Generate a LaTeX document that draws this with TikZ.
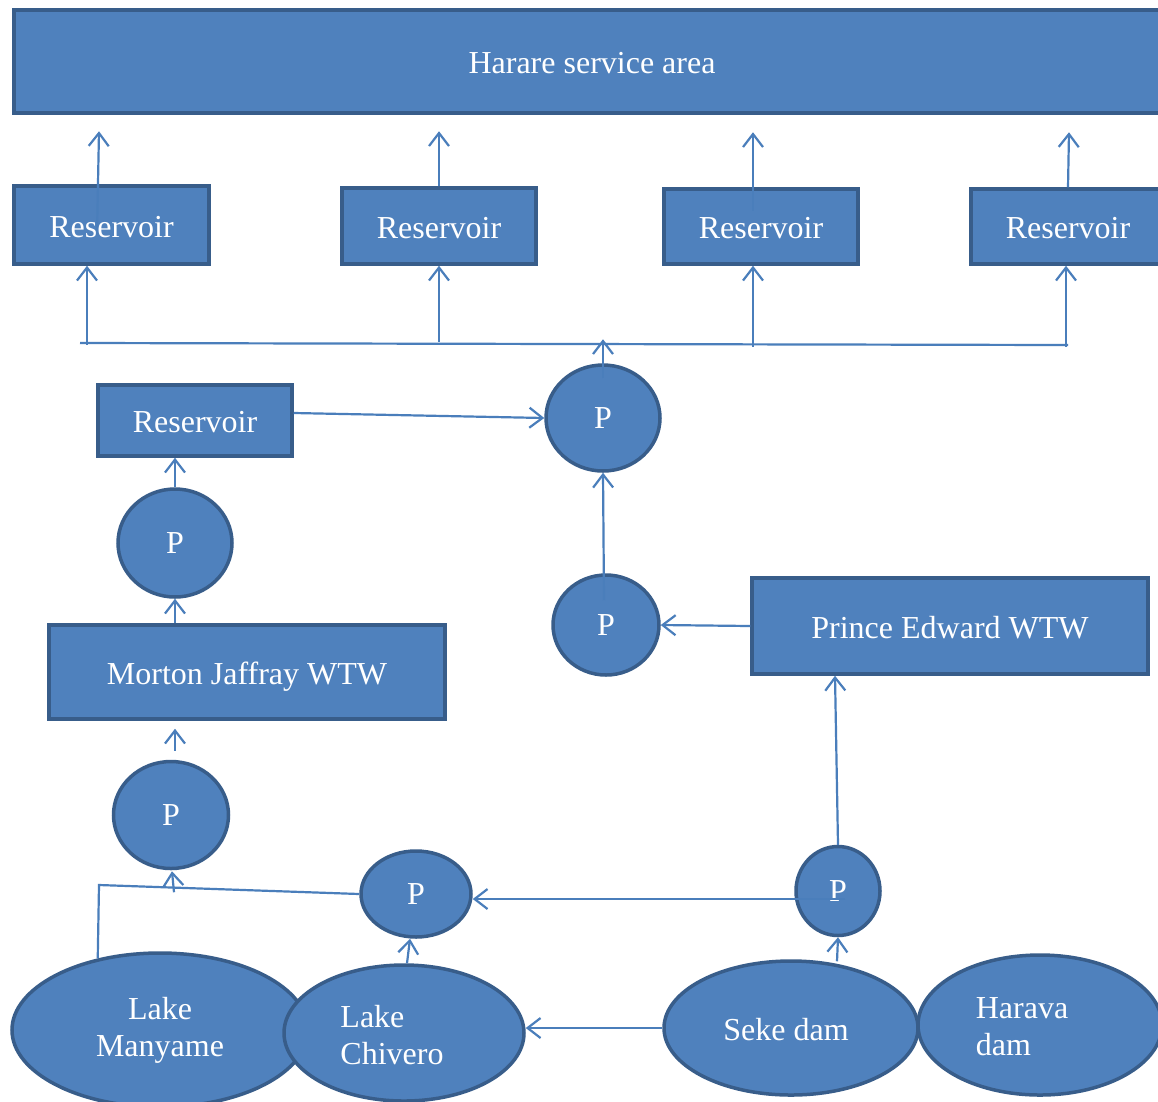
\documentclass[tikz,border=0pt]{standalone}
\usepackage{fontspec}
\setmainfont{Liberation Serif}
\usetikzlibrary{arrows.meta,shapes.geometric,calc}
\definecolor{fillc}{HTML}{4F81BD}
\definecolor{bordc}{HTML}{385D8A}
\definecolor{linec}{HTML}{4A7EBB}
\tikzset{
  box/.style={rectangle, fill=fillc, draw=bordc, line width=3.5pt, text=white, inner sep=0pt,
    font=\fontsize{32}{37}\selectfont, text height=26pt, text depth=2pt},
  pump/.style={ellipse, fill=fillc, draw=bordc, line width=3.5pt, text=white, inner sep=0pt,
    font=\fontsize{32}{37}\selectfont},
  lake/.style={ellipse, fill=fillc, draw=bordc, line width=3.5pt, text=white, inner sep=0pt,
    font=\fontsize{32}{37}\selectfont, align=center},
  lbl/.style={text=white, font=\fontsize{32}{37}\selectfont, align=left, inner sep=0pt},
  pipe/.style={draw=linec, line width=2.2pt},
  conn/.style={pipe, -{Straight Barb[length=13pt,width=20pt,line width=2.2pt]}}
}
\begin{document}
\begin{tikzpicture}[x=1pt,y=-1pt]
\useasboundingbox (0,0) rectangle (1158,1101);
\fill[white] (0,0) rectangle (1158,1101);

% boxes
\node[box, minimum width=1156, minimum height=103] (harare) at (592,61.5) {Harare service area};
\node[box, minimum width=195, minimum height=78] (r1) at (111.5,225) {Reservoir};
\node[box, minimum width=194, minimum height=76] (r2) at (439,226) {Reservoir};
\node[box, minimum width=194, minimum height=75] (r3) at (761,226.5) {Reservoir};
\node[box, minimum width=194, minimum height=75] (r4) at (1068,226.5) {Reservoir};
\node[box, minimum width=194, minimum height=71] (r5) at (195,420.5) {Reservoir};
\node[box, minimum width=396, minimum height=94] (mj) at (247,672) {Morton Jaffray WTW};
\node[box, minimum width=396, minimum height=96] (pe) at (950,626) {Prince Edward WTW};

% pumps
\node[pump, minimum width=114, minimum height=106] (p1) at (603,418) {P};
\node[pump, minimum width=114, minimum height=108] (p2) at (175,543) {P};
\node[pump, minimum width=115, minimum height=107] (p3) at (171,815) {P};
\node[pump, minimum width=106, minimum height=100] (p4) at (606,625) {P};
\node[pump, minimum width=84, minimum height=89] (p5) at (838,891) {P};
\node[pump, minimum width=110, minimum height=86] (p6) at (416,894) {P};

% lakes and dams
\node[lake, minimum width=296, minimum height=154] (lm) at (160,1030) {Lake\\Manyame};
\node[lake, minimum width=240, minimum height=136] (lc) at (404,1033) {};
\node[lbl] (lct) at (392,1035) {Lake\\Chivero};
\node[lake, minimum width=254, minimum height=134] (sd) at (791,1028) {};
\node[lbl] (sdt) at (786,1030) {Seke dam};
\node[lake, minimum width=244, minimum height=140] (hd) at (1040,1025) {};
\node[lbl] (hdt) at (1022,1027) {Harava\\dam};

% reservoirs to service area
\draw[conn] ($(r1.center)+(-14.5,10)$) -- ($(r1.north)+(-12.5,-53)$);
\draw[conn] (r2.north) -- ($(r2.north)+(0,-55)$);
\draw[conn] ($(r3.center)+(-8,-16)$) -- ($(r3.north)+(-8,-55)$);
\draw[conn] (r4.north) -- ($(r4.north)+(1,-55)$);

% distribution bus
\coordinate (busL) at (80,343);
\coordinate (busR) at (1068,345);
\draw[pipe] (busL) -- (busR);
\draw[conn] ($(r1.south)+(-24.5,79)$) -- ($(r1.south)+(-24.5,0)$);
\draw[conn] ($(r2.south)+(0,76)$) -- (r2.south);
\draw[conn] ($(r3.south)+(-8,81)$) -- ($(r3.south)+(-8,0)$);
\draw[conn] ($(r4.south)+(-2,81)$) -- ($(r4.south)+(-2,0)$);
\draw[conn] ($(p1.center)+(0,-40)$) -- ($(p1.north)+(0,-24)$);

% left chain
\draw[conn] ($(r5.east)+(0,-7.5)$) -- (p1.west);
\draw[conn] (p2.north) -- ($(r5.south)+(-20,0)$);
\draw[conn] ($(mj.north)+(-72,0)$) -- (p2.south);
\draw[conn] ($(p3.north)+(4,-9)$) -- ($(mj.south)+(-72,8)$);

% right chain
\draw[conn] ($(p4.center)+(-2,-25)$) -- (p1.south);
\draw[conn] (pe.west) -- (p4.east);
\draw[conn] (p5.north) -- ($(pe.south)+(-115,0)$);
\draw[conn] ($(p5.center)+(7,8)$) -- ($(p6.east)+(0,5)$);

% bottom
\coordinate (j) at (99,885);
\draw[pipe] (p6.west) -- (j) -- (lm.131);
\draw[conn] ($(p3.south)+(3,22)$) -- ($(p3.south)+(1,1)$);
\draw[conn] ($(lc.north)+(3,0)$) -- ($(p6.south)+(-6,0)$);
\draw[conn] (sd.west) -- ($(lc.east)+(0,-5)$);
\draw[conn] ($(sd.north)+(46,2)$) -- (p5.south);
\end{tikzpicture}
\end{document}
